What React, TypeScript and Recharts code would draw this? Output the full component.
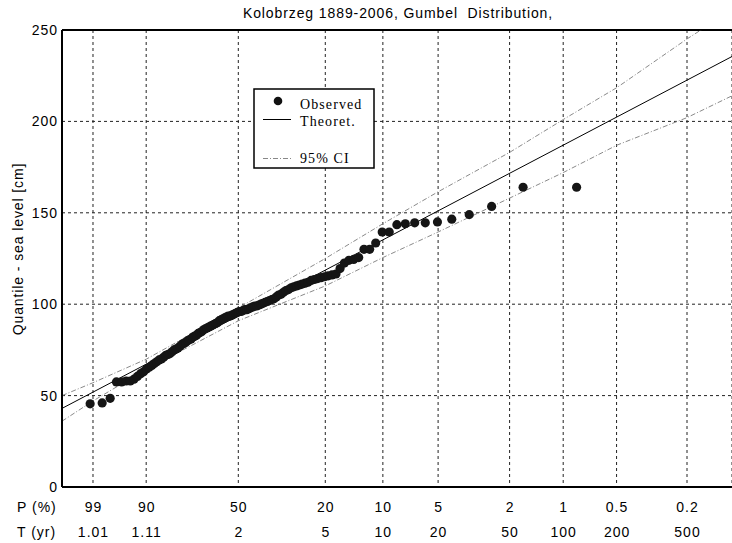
import {
  CartesianGrid,
  ComposedChart,
  Customized,
  Line,
  ReferenceLine,
  Scatter,
  XAxis,
  YAxis,
  ZAxis,
} from "recharts";

// Gumbel probability paper: x axis is the reduced variate -ln(-ln F).
const gumbel = (F: number) => -Math.log(-Math.log(F));

// Exceedance probability ticks (%) and matching return periods.
const P_PCT = [99, 90, 50, 20, 10, 5, 2, 1, 0.5, 0.2];
const P_LABELS = ["99", "90", "50", "20", "10", "5", "2", "1", "0.5", "0.2"];
const T_LABELS = ["1.01", "1.11", "2", "5", "10", "20", "50", "100", "200", "500"];
const Y_TICKS = [0, 50, 100, 150, 200, 250];

// Annual maximum sea levels [cm], sorted, 1889-2006.
const LEVELS = [
  45.5, 46, 48.5, 57.5, 57.5, 58, 58, 59, 60.5, 62,
  63, 64.5, 65.5, 66.5, 67.5, 68.5, 69.5, 70, 71, 72,
  72.5, 73, 74, 75, 75.5, 76, 77, 78, 78.5, 79,
  80, 80.5, 81, 82, 82.5, 83, 84, 84.5, 85, 86,
  86.5, 87, 87.5, 88, 88.5, 89, 89.5, 90, 91, 91.5,
  92, 92.5, 93, 93.5, 93.5, 94, 94.5, 95, 95.5, 96,
  96, 96.5, 97, 97, 97.5, 98, 98.5, 99, 99, 99.5,
  100, 100.5, 101, 101.5, 102, 102.5, 103, 104, 105, 105.5,
  106.5, 107.5, 108, 109, 109.5, 110, 110.5, 111, 111.5, 112,
  113, 113.5, 114, 114.5, 115, 115.5, 116, 116.5, 119.5, 122.5,
  124, 124.5, 125.5, 130, 130, 133.5, 139.5, 139.5, 143.5, 144,
  144.5, 144.5, 145, 146.5, 149, 153.5, 164, 164,
];

// Fitted line and 95% confidence band, sampled along the reduced variate.
const THEO_X = [-1.931, 6.8];
const THEO_Y = [43, 235.5];
const CI_X = [-1.931, -1.53, -0.83, 0.37, 1.5, 2.25, 2.97, 3.9, 4.6, 5.3, 6.21, 6.8];
const CI_UPPER = [50, 57, 70, 98, 125, 144, 161.5, 183, 201, 218.5, 245, 261];
const CI_LOWER = [36, 47, 64.5, 91, 110, 125.5, 139.5, 158, 172, 187, 202, 214];

const X_DOMAIN: [number, number] = [-1.931, 6.8];

const n = LEVELS.length;
const observed = LEVELS.map((v, i) => ({ x: gumbel((i + 1) / (n + 1)), y: v }));
const theoretical = THEO_X.map((x, i) => ({ x, y: THEO_Y[i] }));
const upper = CI_X.map((x, i) => ({ x, y: CI_UPPER[i] }));
const lower = CI_X.map((x, i) => ({ x, y: CI_LOWER[i] }));
const xTicks = P_PCT.map((p) => gumbel(1 - p / 100));

const SANS = "'Liberation Sans', Arial, sans-serif";
const SERIF = "'Liberation Serif', 'Times New Roman', serif";
const CI_DASH = "5 2 1 2";

function XTick(props: any) {
  const { x, y, index } = props;
  return (
    <g fontFamily={SANS} fontSize={14} letterSpacing={1} fill="#000">
      {index === 0 && (
        <>
          <text x={17} y={y + 25} fill="#000">P (%)</text>
          <text x={17} y={y + 50} fill="#000">T (yr)</text>
        </>
      )}
      <text x={x + 0.5} y={y + 25} textAnchor="middle" fill="#000">
        {P_LABELS[index]}
      </text>
      <text x={x + 0.5} y={y + 50} textAnchor="middle" fill="#000">
        {T_LABELS[index]}
      </text>
    </g>
  );
}

function Decorations() {
  return (
    <g>
      <text
        x={398}
        y={18}
        textAnchor="middle"
        fontFamily={SANS}
        fontSize={14}
        letterSpacing={0.9}
        style={{ whiteSpace: "pre" }}
      >
        {"Kolobrzeg 1889-2006, Gumbel  Distribution,"}
      </text>
      <text
        x={23}
        y={249}
        transform="rotate(-90 23 249)"
        textAnchor="middle"
        fontFamily={SANS}
        fontSize={14}
        letterSpacing={0.9}
      >
        Quantile - sea level [cm]
      </text>
      {/* legend box */}
      <rect x={254} y={89} width={120} height={79} fill="#fff" stroke="#000" strokeWidth={1.5} />
      <circle cx={278} cy={101} r={4.3} fill="#111" />
      <line x1={263} x2={291} y1={119.5} y2={119.5} stroke="#000" strokeWidth={1} />
      <line
        x1={263}
        x2={291}
        y1={158.5}
        y2={158.5}
        stroke="#888"
        strokeWidth={1}
        strokeDasharray={CI_DASH}
      />
      <g fontFamily={SERIF} fontSize={14} letterSpacing={1.1} fill="#000">
        <text x={300} y={109}>Observed</text>
        <text x={300} y={126}>Theoret.</text>
        <text x={300} y={163}>95% CI</text>
      </g>
    </g>
  );
}

export default function App() {
  return (
    <div
      style={{
        position: "absolute",
        left: 0,
        top: 0,
        width: 732,
        height: 543,
        overflow: "hidden",
        background: "#fff",
      }}
    >
      <ComposedChart width={732} height={543} margin={{ top: 30, right: 0, bottom: 0, left: 0 }}>
        <CartesianGrid stroke="#222" strokeDasharray="3 3" strokeWidth={1} />
        <XAxis
          type="number"
          dataKey="x"
          domain={X_DOMAIN}
          ticks={xTicks}
          allowDataOverflow
          height={56}
          tickLine={false}
          tickSize={0}
          tickMargin={0}
          axisLine={{ stroke: "#000", strokeWidth: 2 }}
          tick={<XTick />}
          interval={0}
        />
        <YAxis
          type="number"
          dataKey="y"
          domain={[0, 250]}
          ticks={Y_TICKS}
          allowDataOverflow
          width={62}
          tickLine={false}
          tickSize={0}
          tickMargin={4}
          axisLine={{ stroke: "#000", strokeWidth: 2 }}
          tick={{ fontSize: 14, fill: "#000", fontFamily: SANS, letterSpacing: 1 }}
          interval={0}
        />
        <ZAxis range={[66, 66]} />
        <ReferenceLine y={250} stroke="#000" strokeWidth={2} />
        <Scatter data={observed} fill="#151515" isAnimationActive={false} />
        <Line
          data={theoretical}
          dataKey="y"
          stroke="#000"
          strokeWidth={1}
          dot={false}
          isAnimationActive={false}
        />
        <Line
          data={upper}
          dataKey="y"
          stroke="#8a8a8a"
          strokeWidth={1}
          strokeDasharray={CI_DASH}
          dot={false}
          isAnimationActive={false}
        />
        <Line
          data={lower}
          dataKey="y"
          stroke="#8a8a8a"
          strokeWidth={1}
          strokeDasharray={CI_DASH}
          dot={false}
          isAnimationActive={false}
        />
        <Customized component={Decorations} />
      </ComposedChart>
    </div>
  );
}
